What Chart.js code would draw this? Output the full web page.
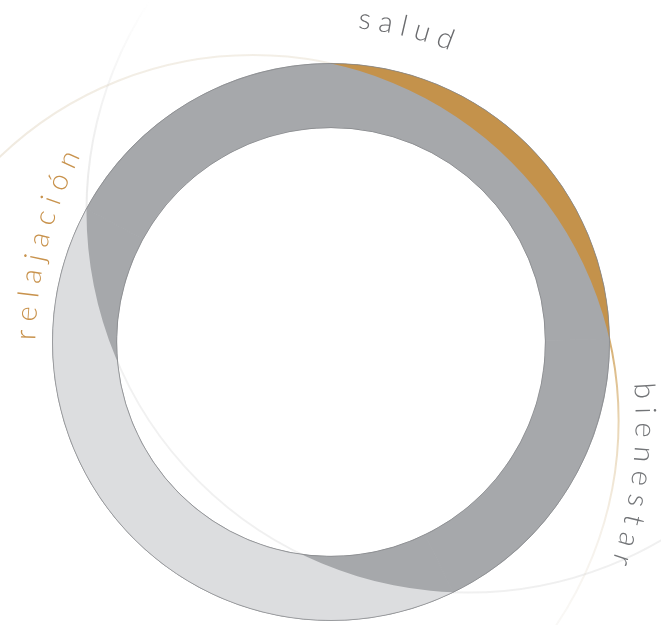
<!DOCTYPE html>
<html>
<head>
<meta charset="utf-8">
<script src="https://cdn.jsdelivr.net/npm/chart.js@4.4.1/dist/chart.umd.min.js"></script>
<style>
html,body{margin:0;padding:0;background:#ffffff;}
#wrap{width:661px;height:625px;position:relative;}
</style>
</head>
<body>
<div id="wrap"><canvas id="c" width="661" height="625"></canvas></div>
<script>
// ---- data ----
// ring segments, clockwise from the top, as degrees of the outer rim
const segmentNames = ['salud', 'bienestar', 'relajación', 'bienestar'];
const rimDegrees = [89.5, 64.5, 144.6, 61.4];
// words written around the ring
const labelWords = ['salud', 'bienestar', 'relajación'];

// ---- styles ----
const RING_GREY = '#a6a8ab';
const accentColors = ['#c4924b', null, '#dcdddf', null];
const cutRadiusFactor = [1.313, null, 1.37, null];

const ringArt = {
  id: 'ringArt',
  afterDatasetsDraw(chart, args, opts) {
    const ctx = chart.ctx;
    const W = chart.width, H = chart.height;
    const meta = chart.getDatasetMeta(0);
    let cx = 0, cy = 0, R = 0, r = 0;
    const cuts = [];
    meta.data.forEach((arc, i) => {
      const p = arc.getProps(['x', 'y', 'startAngle', 'endAngle', 'innerRadius', 'outerRadius'], true);
      cx = p.x; cy = p.y; R = p.outerRadius; r = p.innerRadius;
      const k = opts.cutFactor[i];
      if (!k) return;
      const x1 = p.x + R * Math.cos(p.startAngle), y1 = p.y + R * Math.sin(p.startAngle);
      const x2 = p.x + R * Math.cos(p.endAngle), y2 = p.y + R * Math.sin(p.endAngle);
      const mx = (x1 + x2) / 2, my = (y1 + y2) / 2;
      const h = Math.hypot(x2 - x1, y2 - y1) / 2;
      const rc = k * R;
      const d = Math.sqrt(Math.max(rc * rc - h * h, 0));
      let ux = p.x - mx, uy = p.y - my;
      const L = Math.hypot(ux, uy) || 1; ux /= L; uy /= L;
      const ccx = mx + ux * d, ccy = my + uy * d;
      cuts.push({ i, ccx, ccy, rc });
      ctx.save();
      ctx.beginPath();
      ctx.arc(p.x, p.y, R, p.startAngle, p.endAngle);
      ctx.arc(p.x, p.y, p.innerRadius, p.endAngle, p.startAngle, true);
      ctx.closePath();
      ctx.clip();
      ctx.beginPath();
      ctx.rect(0, 0, W, H);
      ctx.arc(ccx, ccy, rc, 0, Math.PI * 2);
      ctx.clip('evenodd');
      ctx.fillStyle = opts.accent[i];
      ctx.fillRect(0, 0, W, H);
      ctx.restore();
    });

    // thin decorative circles, only outside the ring band
    cuts.forEach(c => {
      ctx.save();
      ctx.beginPath();
      ctx.rect(0, 0, W, H);
      ctx.arc(cx, cy, R + 0.5, 0, Math.PI * 2);
      ctx.moveTo(cx + r - 0.5, cy);
      ctx.arc(cx, cy, r - 0.5, 0, Math.PI * 2);
      ctx.clip('evenodd');
      let g;
      if (c.i === 0) {
        g = ctx.createLinearGradient(0, 0, 0, H);
        g.addColorStop(0.0, 'rgba(225,215,195,0.35)');
        g.addColorStop(0.3, 'rgba(220,205,180,0.45)');
        g.addColorStop(0.52, 'rgba(205,155,80,0.9)');
        g.addColorStop(0.68, 'rgba(215,180,120,0.55)');
        g.addColorStop(0.85, 'rgba(228,215,195,0.35)');
        g.addColorStop(1.0, 'rgba(232,228,220,0.25)');
      } else {
        g = ctx.createLinearGradient(0, 0, 0, H);
        g.addColorStop(0.0, 'rgba(205,205,205,0.0)');
        g.addColorStop(0.12, 'rgba(205,205,205,0.2)');
        g.addColorStop(0.3, 'rgba(205,205,205,0.4)');
        g.addColorStop(0.6, 'rgba(210,210,210,0.3)');
        g.addColorStop(1.0, 'rgba(210,210,210,0.35)');
      }
      ctx.strokeStyle = g;
      ctx.lineWidth = 2;
      ctx.beginPath();
      ctx.arc(c.ccx, c.ccy, c.rc, 0, Math.PI * 2);
      ctx.stroke();
      ctx.restore();
    });

    // ring outlines
    ctx.save();
    ctx.strokeStyle = 'rgba(125,127,130,0.6)';
    ctx.lineWidth = 1;
    ctx.beginPath();
    ctx.arc(cx, cy, R, 0, Math.PI * 2);
    ctx.stroke();
    ctx.beginPath();
    ctx.arc(cx, cy, r, 0, Math.PI * 2);
    ctx.stroke();
    ctx.restore();

    // words around the ring
    ctx.save();
    ctx.font = opts.font;
    ctx.textAlign = 'center';
    ctx.textBaseline = 'alphabetic';
    opts.words.forEach((wcfg, wi) => {
      const text = Array.from(labelWords[wi]);
      const ox = cx + wcfg.ox * R, oy = cy + wcfg.oy * R;
      const rb = wcfg.rb * R;
      const widths = text.map(ch => ctx.measureText(ch).width);
      const arcLen = rb * (wcfg.a1 - wcfg.a0) * Math.PI / 180;
      let base = 0;
      for (let k = 0; k < text.length - 1; k++) base += (widths[k] + widths[k + 1]) / 2;
      const sp = (arcLen - base) / (text.length - 1);
      let s = 0;
      ctx.fillStyle = wcfg.color;
      text.forEach((ch, k) => {
        if (k > 0) s += (widths[k - 1] + widths[k]) / 2 + sp;
        const th = wcfg.a0 * Math.PI / 180 + s / rb;
        ctx.save();
        ctx.translate(ox + rb * Math.cos(th), oy + rb * Math.sin(th));
        ctx.rotate(th + Math.PI / 2);
        ctx.fillText(ch, 0, 0);
        ctx.restore();
      });
    });
    ctx.restore();
  }
};

new Chart(document.getElementById('c'), {
  type: 'doughnut',
  data: {
    labels: segmentNames,
    datasets: [{
      data: rimDegrees,
      backgroundColor: RING_GREY,
      borderColor: RING_GREY,
      borderWidth: 1,
      hoverOffset: 0,
      offset: 0
    }]
  },
  options: {
    responsive: false,
    animation: false,
    devicePixelRatio: 1,
    cutout: '77%',
    rotation: 0,
    circumference: 360,
    layout: { padding: { top: 63, bottom: 4, left: 52, right: 51 } },
    events: [],
    plugins: {
      legend: { display: false },
      tooltip: { enabled: false },
      ringArt: {
        accent: accentColors,
        cutFactor: cutRadiusFactor,
        font: '300 29px Lato, "Open Sans", sans-serif',
        words: [
          { color: '#6a6b6e', ox: 0, oy: 0, rb: 1.13, a0: -84.0, a1: -69.3 },
          { color: '#727477', ox: -0.471, oy: 0.281, rb: 1.565, a0: -3.8, a1: 18.3 },
          { color: '#c8924c', ox: 0.471, oy: 0.018, rb: 1.533, a0: 181.6, a1: 205.5 }
        ]
      }
    }
  },
  plugins: [ringArt]
});
</script>
</body>
</html>
